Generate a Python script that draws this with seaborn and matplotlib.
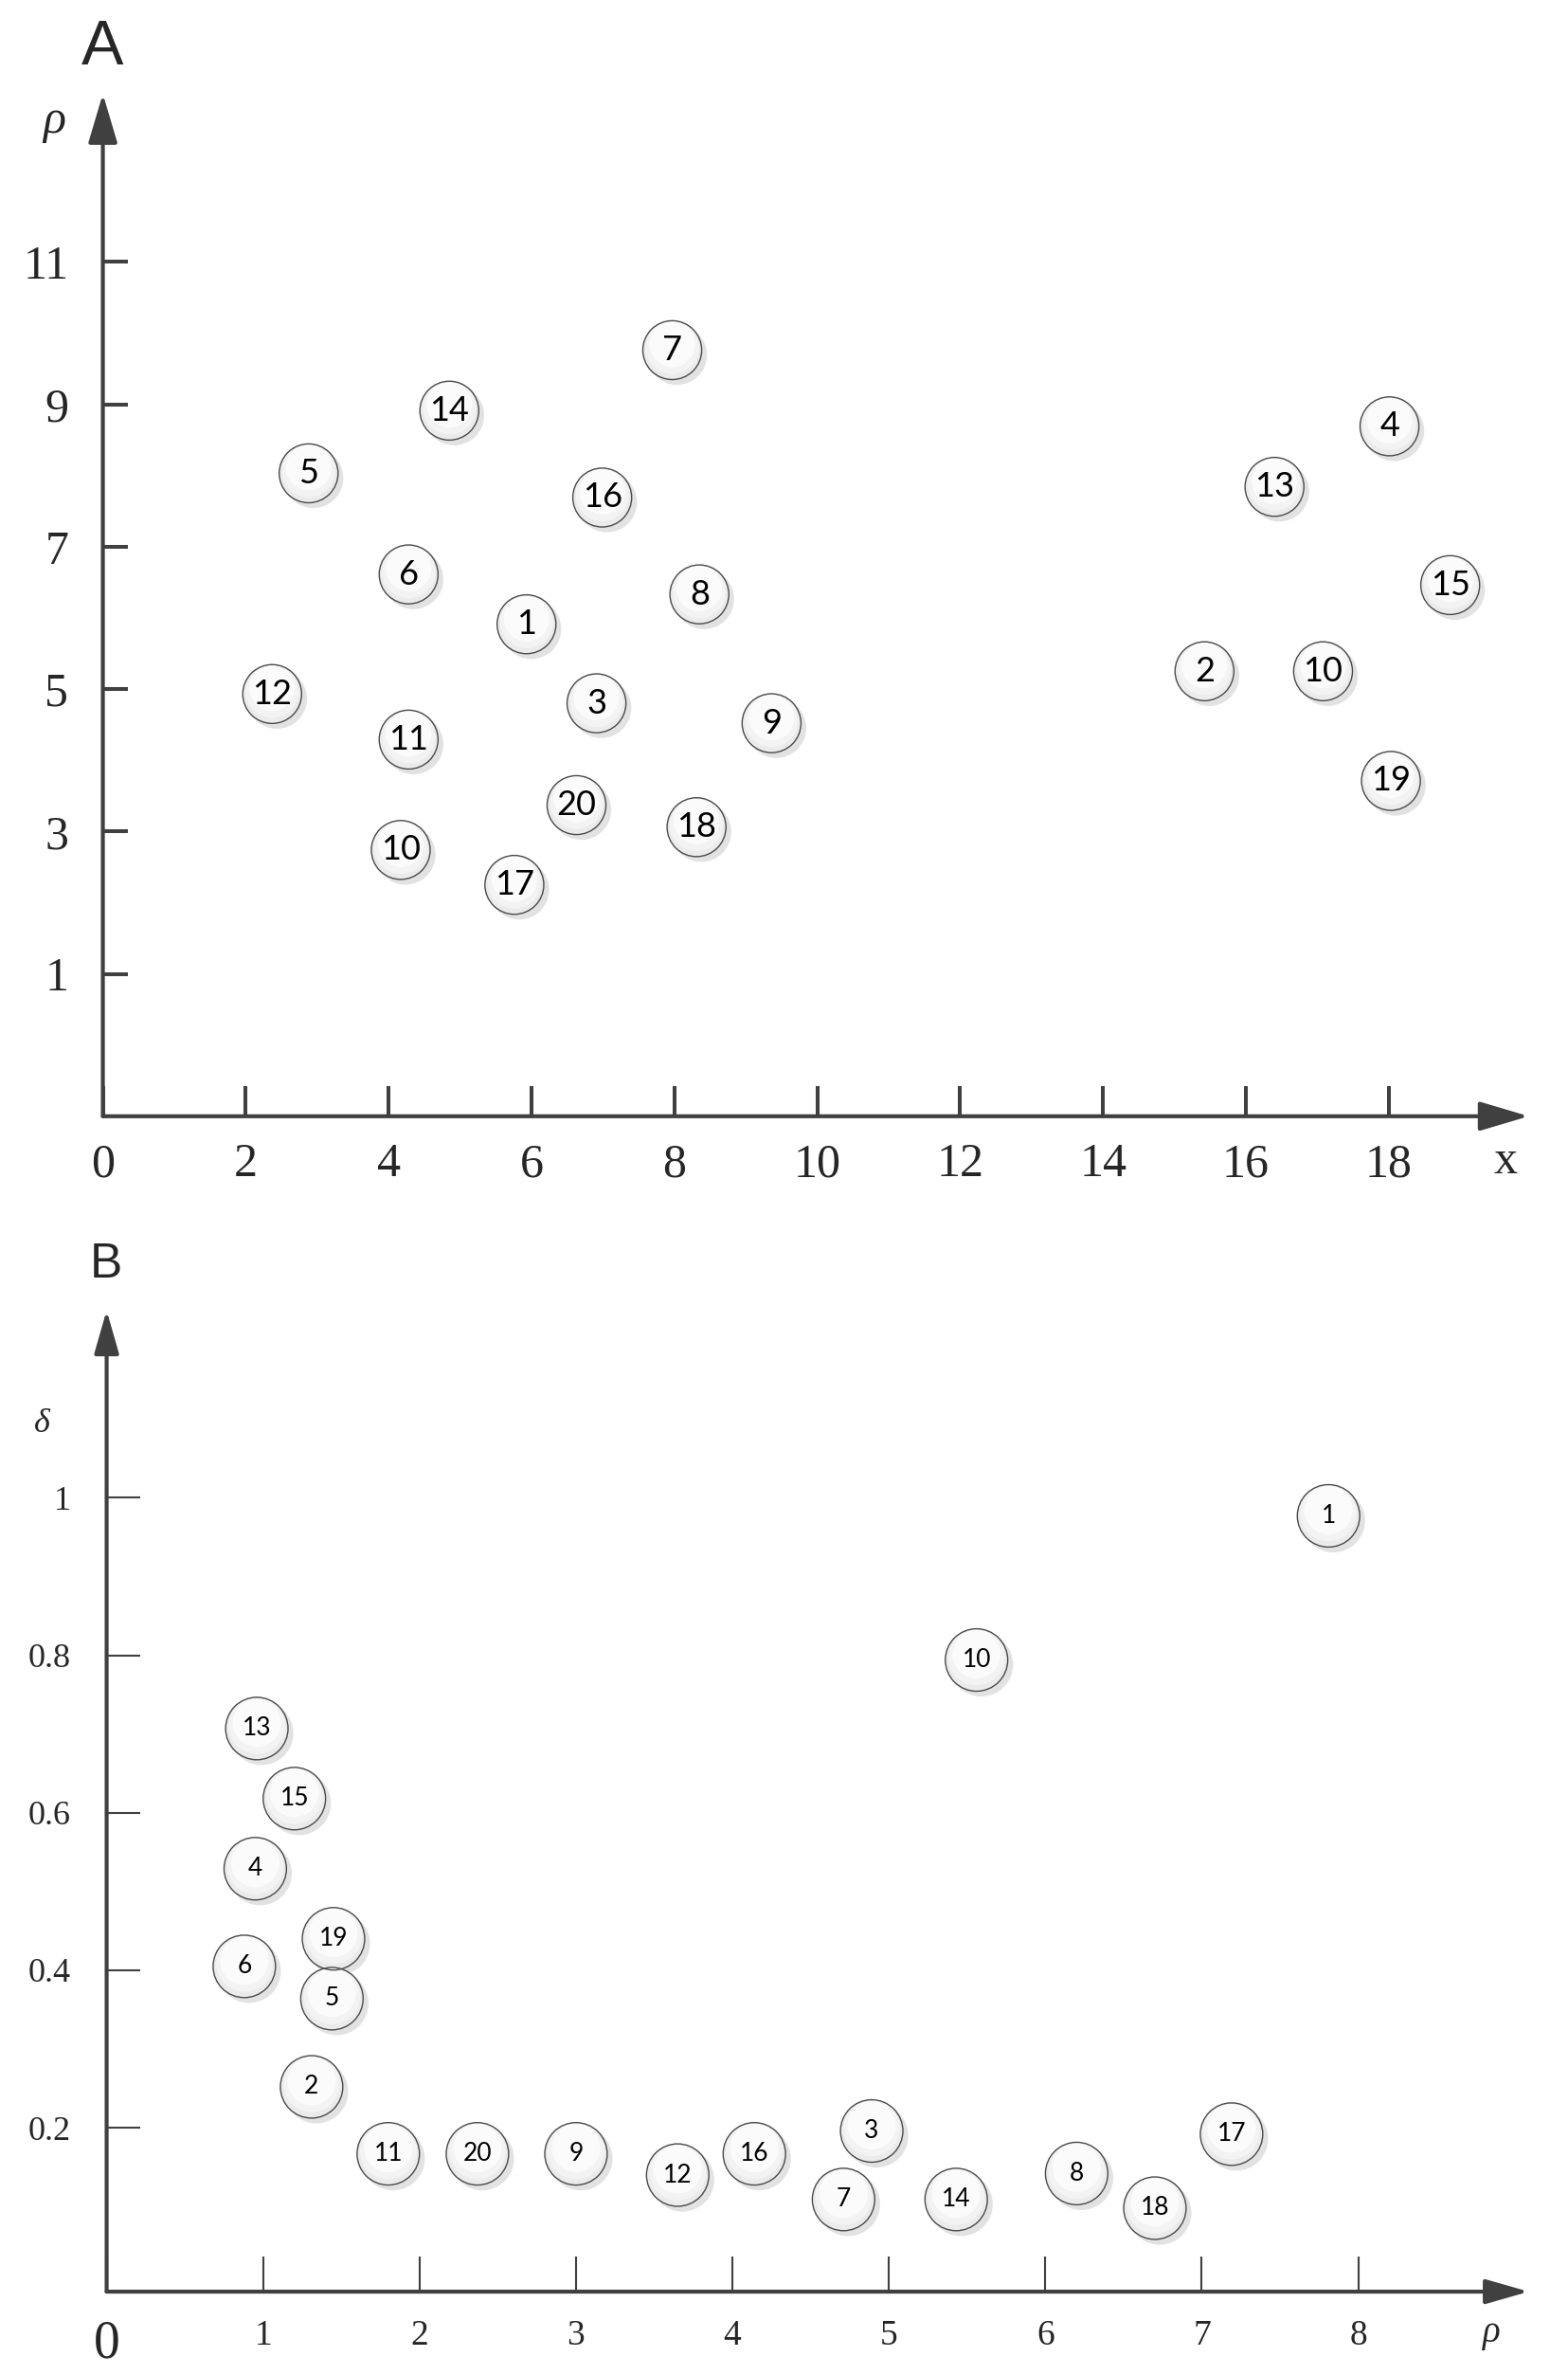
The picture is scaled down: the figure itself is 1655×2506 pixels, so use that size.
import numpy as np
import pandas as pd
import matplotlib
matplotlib.use("Agg")
import matplotlib.pyplot as plt
import seaborn as sns
from matplotlib.transforms import offset_copy

# ---------------- data ----------------
a_labels = ["7", "14", "5", "16", "6", "8", "1", "12", "3", "9", "11", "20", "18", "10", "17",
            "2", "13", "4", "15", "10", "19"]
a_x = [7.97, 4.85, 2.88, 6.99, 4.28, 8.35, 5.93, 2.37, 6.91, 9.36, 4.28, 6.63, 8.31, 4.17, 5.76,
       15.42, 16.40, 18.01, 18.86, 17.08, 18.03]
a_rho = [9.76, 8.91, 8.03, 7.69, 6.61, 6.33, 5.91, 4.93, 4.80, 4.52, 4.29, 3.37, 3.06, 2.74, 2.25,
         5.25, 7.84, 8.69, 6.46, 5.25, 3.71]

b_labels = ["1", "10", "13", "15", "4", "19", "6", "5", "2", "11", "20", "9", "12", "16", "3",
            "7", "14", "8", "18", "17"]
b_rho = [7.81, 5.56, 0.96, 1.20, 0.95, 1.45, 0.88, 1.44, 1.31, 1.80, 2.37, 3.00, 3.65, 4.14, 4.89,
         4.71, 5.43, 6.20, 6.70, 7.19]
b_delta = [0.977, 0.794, 0.707, 0.618, 0.529, 0.440, 0.405, 0.364, 0.252, 0.167, 0.167, 0.167, 0.140,
           0.167, 0.196, 0.109, 0.109, 0.142, 0.098, 0.192]

a_xticks = [0, 2, 4, 6, 8, 10, 12, 14, 16, 18]
a_yticks = [1, 3, 5, 7, 9, 11]
b_xticks = [0, 1, 2, 3, 4, 5, 6, 7, 8]
b_yticks = [0.2, 0.4, 0.6, 0.8, 1.0]
b_ytick_labels = ["0.2", "0.4", "0.6", "0.8", "1"]

df_a = pd.DataFrame({"label": a_labels, "x": a_x, "rho": a_rho})
df_b = pd.DataFrame({"label": b_labels, "rho": b_rho, "delta": b_delta})

# ---------------- style ----------------
sns.set_theme(style="white")
plt.rcParams["font.family"] = ["Liberation Serif", "DejaVu Serif"]
AXC = "#404040"

fig = plt.figure(figsize=(16.55, 25.06), dpi=100)
axA = fig.add_axes([0.0656, 0.5300, 0.975 - 0.0656, 0.9605 - 0.5300])
axB = fig.add_axes([0.068, 0.0351, 0.975 - 0.068, 0.4483 - 0.0351])


def bubbles(ax, df, xc, yc, s, fs):
    shadow = offset_copy(ax.transData, fig=fig, x=5, y=-5, units="dots")
    sns.scatterplot(data=df, x=xc, y=yc, s=s * 1.04, color="#e2e2e2", edgecolor="none",
                    ax=ax, zorder=3, legend=False, transform=shadow)
    sns.scatterplot(data=df, x=xc, y=yc, s=s, color="#ebebeb", edgecolor="none",
                    ax=ax, zorder=4, legend=False)
    hi1 = offset_copy(ax.transData, fig=fig, x=0, y=3, units="dots")
    sns.scatterplot(data=df, x=xc, y=yc, s=s * 0.82, color="#f3f3f3", edgecolor="none",
                    ax=ax, zorder=5, legend=False, transform=hi1)
    hi2 = offset_copy(ax.transData, fig=fig, x=0, y=6, units="dots")
    sns.scatterplot(data=df, x=xc, y=yc, s=s * 0.6, color="#fbfbfb", edgecolor="none",
                    ax=ax, zorder=6, legend=False, transform=hi2)
    ax.scatter(df[xc], df[yc], s=s, facecolor="none", edgecolor="#4a4a4a",
               linewidth=1.0, zorder=7)
    for _, r in df.iterrows():
        ax.text(r[xc], r[yc], r["label"], ha="center", va="center", fontsize=fs,
                family=["Lato", "DejaVu Sans"], color="black", zorder=8)


def arrows(ax, x0, y0, x1, y1, lw, hl, hw):
    props = dict(arrowstyle=f"-|>,head_length={hl},head_width={hw}", lw=lw,
                 color=AXC, shrinkA=0, shrinkB=0, mutation_scale=10)
    ax.annotate("", xy=(x1, y0), xytext=(x0, y0), arrowprops=props,
                annotation_clip=False, zorder=2)
    ax.annotate("", xy=(x0, y1), xytext=(x0, y0), arrowprops=props,
                annotation_clip=False, zorder=2)


# ---------------- panel A ----------------
axA.set_xlim(0, 19.96)
axA.set_ylim(-1.0, 13.36)
bubbles(axA, df_a, "x", "rho", 2000, 26)
arrows(axA, 0, -1.0, 19.96, 13.36, 3.0, 3.2, 0.95)
for sp in axA.spines.values():
    sp.set_visible(False)
axA.set_xticks(a_xticks)
axA.set_xticklabels([str(v) for v in a_xticks])
axA.set_yticks(a_yticks)
axA.set_yticklabels([str(v) for v in a_yticks])
axA.tick_params(axis="x", direction="in", length=23, width=2.9, color=AXC,
                labelsize=36, pad=20, bottom=True)
axA.tick_params(axis="y", direction="in", length=19, width=2.9, color=AXC,
                labelsize=36, pad=26, left=True)
axA.set_xlabel("")
axA.set_ylabel("")

# ---------------- panel B ----------------
axB.set_xlim(0, 9.09)
axB.set_ylim(-0.008, 1.238)
bubbles(axB, df_b, "rho", "delta", 2250, 19)
arrows(axB, 0, -0.008, 9.09, 1.238, 3.0, 2.8, 0.8)
for sp in axB.spines.values():
    sp.set_visible(False)
axB.set_xticks(b_xticks)
axB.set_xticklabels([str(v) for v in b_xticks])
axB.set_yticks(b_yticks)
axB.set_yticklabels(b_ytick_labels)
axB.tick_params(axis="x", direction="in", length=27, width=1.5, color=AXC,
                labelsize=27, pad=21, bottom=True)
axB.tick_params(axis="y", direction="in", length=25, width=1.5, color=AXC,
                labelsize=26, pad=27, left=True)
axB.get_xticklabels()[0].set_fontsize(40)
axB.set_xlabel("")
axB.set_ylabel("")

# ---------------- labels ----------------
fig.text(0.0656, 0.9796, "A", ha="center", va="center", fontsize=48,
         family=["Liberation Sans", "DejaVu Sans"])
fig.text(0.0676, 0.4675, "B", ha="center", va="center", fontsize=37,
         family=["Liberation Sans", "DejaVu Sans"])
fig.text(0.0347, 0.949, "ρ", ha="center", va="center", fontsize=36, style="italic")
fig.text(0.960, 0.511, "x", ha="center", va="center", fontsize=36)
fig.text(0.027, 0.4005, "δ", ha="center", va="center", fontsize=26, style="italic")
fig.text(0.951, 0.0179, "ρ", ha="center", va="center", fontsize=28, style="italic")

fig.savefig("out.png", dpi=100, facecolor="white")
